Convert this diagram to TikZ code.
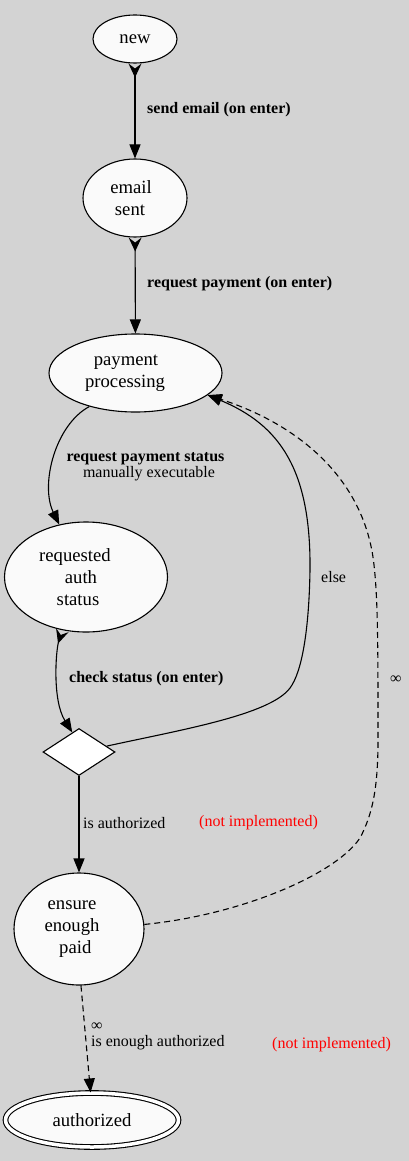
\documentclass[tikz,border=0pt]{standalone}
\usepackage{fontspec}
\setmainfont{Liberation Serif}
\usetikzlibrary{shapes.geometric,arrows.meta}
\definecolor{bg}{HTML}{D3D3D3}
\definecolor{nodefill}{HTML}{FAFAFA}
\newcommand\tshift[1]{\hspace*{-#1pt}\hspace*{-#1pt}}
\begin{document}
\begin{tikzpicture}[x=1pt,y=-1pt,
  st/.style={ellipse,draw,fill=nodefill,inner sep=0pt,line width=1.1pt,font=\fontsize{18.67}{22}\selectfont,align=center},
  lbl/.style={inner sep=0pt,anchor=west,font=\fontsize{16}{16}\selectfont,align=left},
  lblb/.style={font=\fontsize{16}{16}\selectfont\bfseries},
  edge/.style={line width=1.1pt,-{Triangle[length=14pt,width=11pt]}},
  tailedge/.style={line width=1.1pt,{Stealth[length=14pt,width=13pt,inset=5pt,reversed]}-{Triangle[length=14pt,width=11pt]}},
  dashedge/.style={edge,dash pattern=on 6pt off 4pt},
]
\fill[bg] (0,0) rectangle (409,1161);
\useasboundingbox (0,0) rectangle (409,1161);

\node[st,minimum width=84pt,minimum height=48pt] (new) at (135,39) {new};
\node[st,minimum width=104pt,minimum height=78pt] (es) at (135,198) {\tshift{4}email\\\tshift{5}sent};
\node[st,minimum width=173pt,minimum height=78pt] (pp) at (135.5,373) {\tshift{9.5}payment\\\tshift{10.5}processing};
\node[st,minimum width=163pt,minimum height=110pt] (ras) at (86,577) {\tshift{11}requested\\\tshift{5}auth\\\tshift{8}status};
\node[diamond,draw,fill=white,line width=1.1pt,inner sep=0pt,minimum width=72pt,minimum height=47pt] (dia) at (79,752) {};
\node[st,minimum width=130pt,minimum height=112pt] (ens) at (79,929) {\tshift{7}ensure\\\tshift{7}enough\\\tshift{3.7}paid};
\node[st,double,double distance=3.5pt,minimum width=173pt,minimum height=54pt] (auth) at (92,1120) {authorized};

\draw[tailedge] (new) -- (es);
\draw[tailedge] (es) -- (pp);
\draw[edge] (pp.216) .. controls (55,425) and (40,485) .. (ras.117);
\draw[tailedge] (ras.246) .. controls (56,650) and (52,700) .. (dia.109);
\draw[edge] (dia.12) .. controls (180,730) and (270,715) .. (290,688) .. controls (302,672) and (309,630) .. (310,570) .. controls (311,470) and (280,425) .. (pp.-17);
\draw[edge] (dia) -- (ens);
\draw[dashedge] (ens.4) .. controls (240,915) and (335,875) .. (360,838) .. controls (372,815) and (378,790) .. (378,740) .. controls (378,650) and (378,600) .. (374,565) .. controls (365,480) and (300,425) .. (pp.-17);
\draw[dashedge] (ens.272) -- (auth.93);

\node[lbl,lblb] (l1) at (147,110) {send email (on enter)};
\node[lbl,lblb] (l2) at (147,284) {request payment (on enter)};
\node[inner sep=0pt,align=center,font=\fontsize{16}{16}\selectfont] (l3) at (145.5,467) {\textbf{request payment status}\\\hspace*{7pt}manually executable};
\node[lbl,lblb] (l4) at (69,679) {check status (on enter)};
\node[lbl] (l5) at (321,577) {else};
\node[lbl] (l6) at (390,680) {∞};
\node[lbl] (l7) at (83,823) {is authorized};
\node[lbl,text=red] (l8) at (199,823) {(not implemented)};
\node[lbl] (l9) at (91,1036) {∞\\is enough authorized};
\node[lbl,text=red] (l10) at (272,1045) {(not implemented)};
\end{tikzpicture}
\end{document}
